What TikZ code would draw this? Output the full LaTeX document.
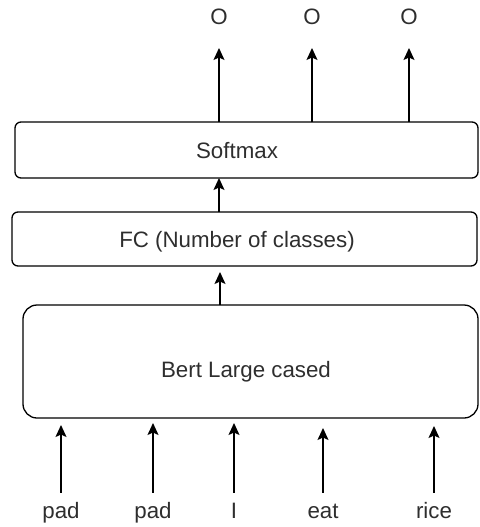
\documentclass[tikz,border=0pt]{standalone}
\usepackage{fontspec}
\setmainfont{Liberation Sans}
\usetikzlibrary{arrows.meta}
\begin{document}
\begin{tikzpicture}[x=1pt,y=-1pt,
  txt/.style={font=\fontsize{22.3}{25}\selectfont, text=black!82, inner sep=0pt,
    text height=16pt, text depth=5pt},
  layer/.style={draw=black, line width=1.3pt, rounded corners=6pt, txt},
  flow/.style={draw=black, line width=1.3pt, -{Stealth[length=12pt,width=11pt,inset=2.5pt]}}
]
\useasboundingbox (0,0) rectangle (479,527);

% stacked layers
\draw[layer] (15,122) rectangle (478,178);
\node[txt] (soft) at (237,153) {Softmax};

\draw[layer] (12,212) rectangle (477,266);
\node[txt] (fc) at (237,242) {FC (Number of classes)};

\draw[layer, rounded corners=14pt] (23,305) rectangle (478,418);
\node[txt] (bert) at (246,372) {Bert Large cased};

% attachment points on the layer boxes
\coordinate (fcTop) at (219,212);
\coordinate (fcBot) at (220,266);
\coordinate (bertTop) at (220,305);
\coordinate (softBot) at (219,178);

\draw[flow] (fcTop) -- (softBot);
\draw[flow, shorten >=6pt] (bertTop) -- (fcBot);

% output labels
\foreach \n/\x in {o1/219, o2/312, o3/409} {
  \node[txt, anchor=base] (\n) at (\x,25) {O};
  \coordinate (\n s) at (\x,122);
  \draw[flow, shorten >=23pt] (\n s) -- (\n.base);
}

% input tokens
\foreach \n/\x/\t/\g in {t1/61/pad/7, t2/153/pad/5, t3/234/I/5, t4/323/eat/10, t5/434/rice/8} {
  \node[txt, anchor=base] (\n) at (\x,518) {\t};
  \coordinate (\n b) at (\x,418);
  \draw[flow, shorten <=9pt, shorten >=\g pt] (\n.north) -- (\n b);
}
\end{tikzpicture}
\end{document}
